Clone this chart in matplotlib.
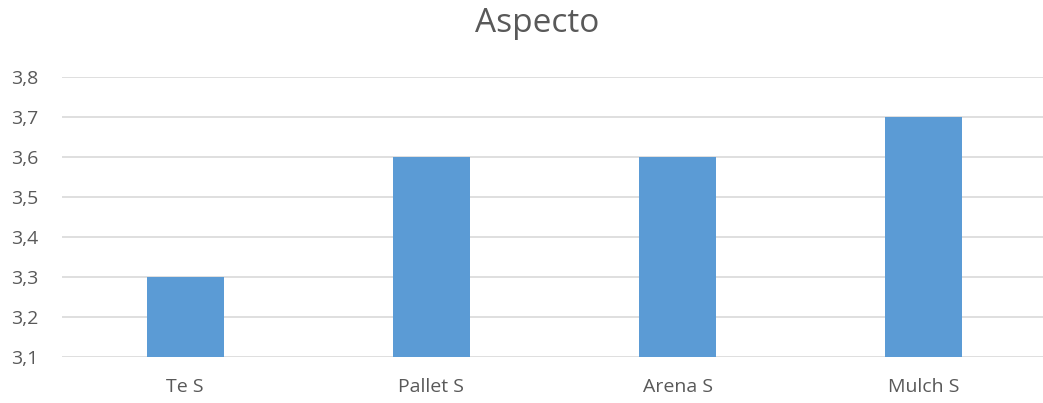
import matplotlib.pyplot as plt

categories = ["Te S", "Pallet S", "Arena S", "Mulch S"]
values = [3.3, 3.6, 3.6, 3.7]
yticks = [3.1, 3.2, 3.3, 3.4, 3.5, 3.6, 3.7, 3.8]

plt.rcParams['font.family'] = ['Open Sans', 'DejaVu Sans']
text_color = "#595959"

fig = plt.figure(figsize=(10.43, 4.03), dpi=100)
ax = fig.add_axes([62 / 1043, 46 / 403, 985 / 1043, 280 / 403])

x = range(len(categories))
ax.bar(x, [v - yticks[0] for v in values], bottom=yticks[0], width=0.313,
       color="#5B9BD5", zorder=3)

ax.set_xlim(-0.5, len(categories) - 0.5)
ax.set_ylim(yticks[0], yticks[-1])
ax.set_yticks(yticks)
ax.set_yticklabels([f"{t:.1f}".replace(".", ",") for t in yticks])
ax.set_xticks(list(x))
ax.set_xticklabels(categories)
ax.grid(axis="y", color="#D9D9D9", linewidth=1.2, zorder=0)
for s in ax.spines.values():
    s.set_visible(False)
ax.tick_params(length=0, labelsize=14, colors=text_color)
ax.tick_params(axis="x", pad=15)
ax.tick_params(axis="y", pad=17)

fig.suptitle("Aspecto", x=537 / 1043, y=0.982, fontsize=24, color=text_color,
             va="top")

fig.savefig("out.png", dpi=100)
